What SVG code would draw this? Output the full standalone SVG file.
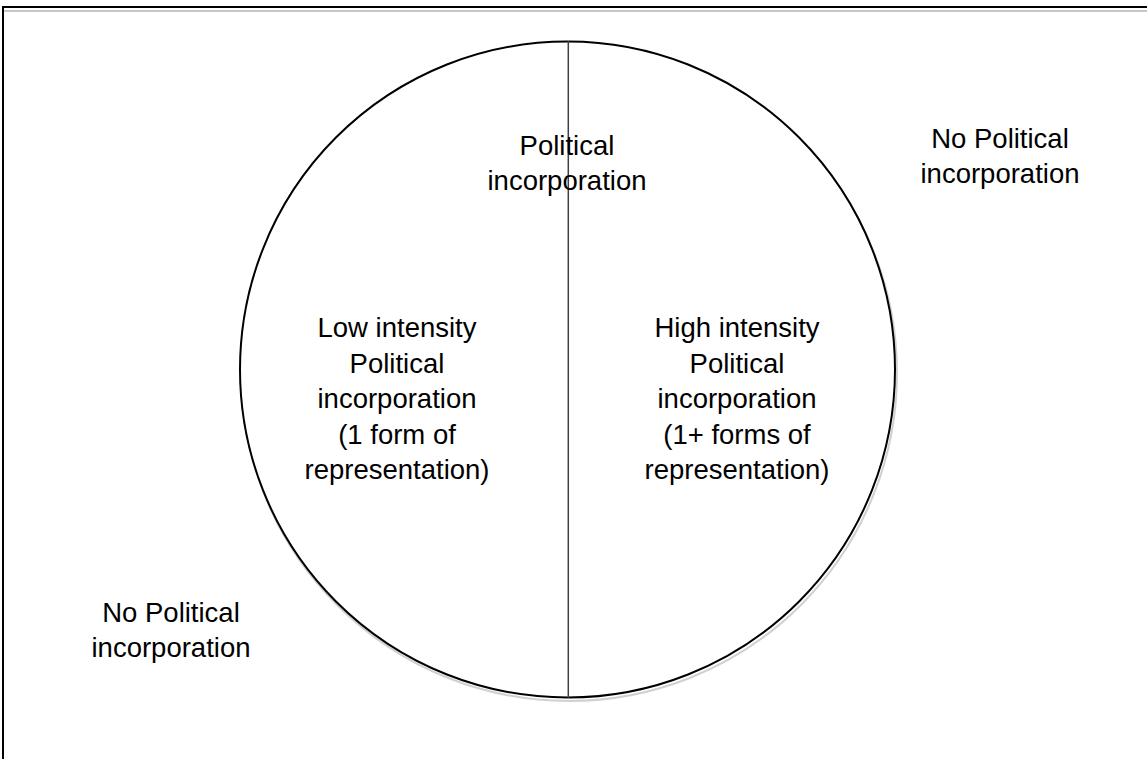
<svg xmlns="http://www.w3.org/2000/svg" width="1147" height="759" viewBox="0 0 1147 759">
  <style>
    .lbl { font-family: "Liberation Sans", Arial, sans-serif; font-size: 27.5px; fill: #000; text-anchor: middle; }
  </style>
  <rect width="1147" height="759" fill="#fff"/>
  <!-- page frame: top and left edges with light inner rule -->
  <g id="frame">
    <line x1="3" y1="11" x2="1147" y2="11" stroke="#c8c8c8" stroke-width="2"/>
    <line x1="2" y1="7" x2="1147" y2="7" stroke="#000" stroke-width="2"/>
    <line x1="3" y1="6" x2="3" y2="759" stroke="#000" stroke-width="2"/>
  </g>
  <!-- circle with soft gray offset shadow -->
  <g id="circle">
    <ellipse cx="569" cy="373" rx="328" ry="328" fill="none" stroke="#d0d0d0" stroke-width="2"/>
    <ellipse cx="567.5" cy="369.5" rx="327.5" ry="328" fill="#fff" stroke="#000" stroke-width="2"/>
  </g>
  <g id="connectors">
    <line x1="568.3" y1="41" x2="568.3" y2="698" stroke="#404040" stroke-width="1.5"/>
  </g>
  <g id="node-center">
    <text class="lbl" x="567" y="155">Political</text>
    <text class="lbl" x="567" y="190">incorporation</text>
  </g>
  <g id="node-low">
    <text class="lbl" x="397" y="337">Low intensity</text>
    <text class="lbl" x="397" y="373">Political</text>
    <text class="lbl" x="397" y="408">incorporation</text>
    <text class="lbl" x="397" y="444">(1 form of</text>
    <text class="lbl" x="397" y="479">representation)</text>
  </g>
  <g id="node-high">
    <text class="lbl" x="737" y="337">High intensity</text>
    <text class="lbl" x="737" y="373">Political</text>
    <text class="lbl" x="737" y="408">incorporation</text>
    <text class="lbl" x="737" y="444">(1+ forms of</text>
    <text class="lbl" x="737" y="479">representation)</text>
  </g>
  <g id="node-none-right">
    <text class="lbl" x="1000" y="148">No Political</text>
    <text class="lbl" x="1000" y="183">incorporation</text>
  </g>
  <g id="node-none-left">
    <text class="lbl" x="171" y="622">No Political</text>
    <text class="lbl" x="171" y="657">incorporation</text>
  </g>
</svg>
